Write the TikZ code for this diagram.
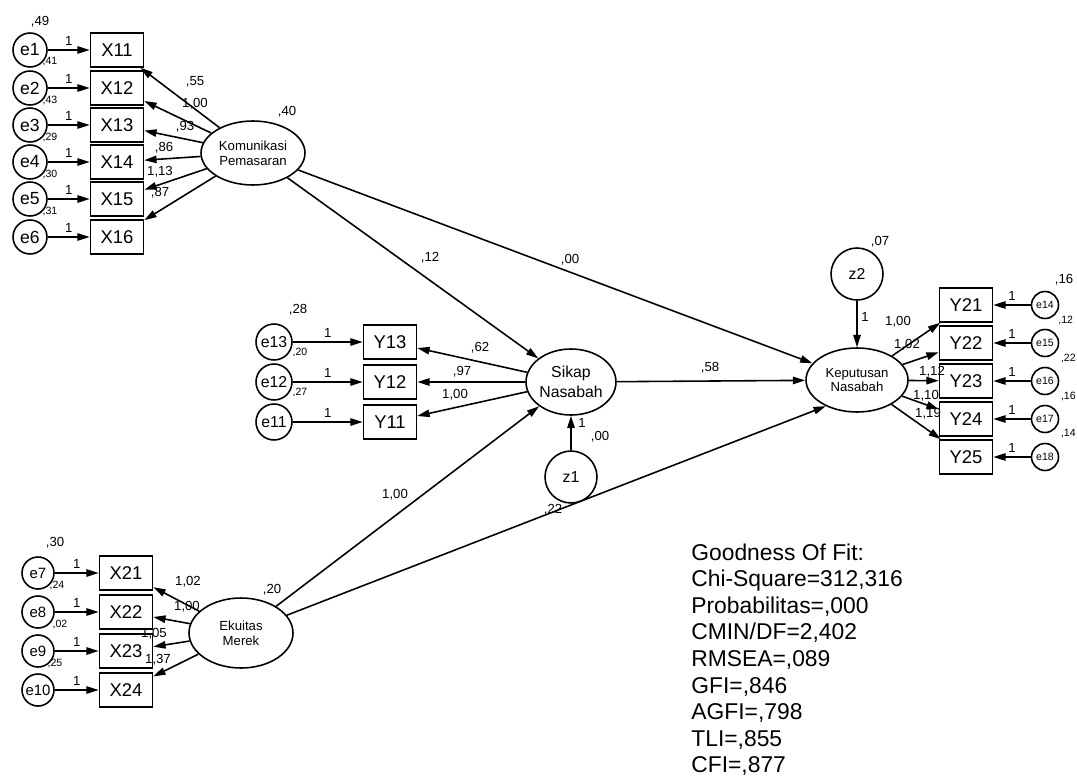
\documentclass[tikz,border=0pt]{standalone}
\usepackage{fontspec}
\setmainfont{Liberation Sans}
\usetikzlibrary{arrows.meta,shapes.geometric}
\tikzset{
  pth/.style={line width=0.9pt,-{Triangle[length=7pt,width=4.2pt]}},
  obs/.style={draw,line width=0.9pt,minimum width=1.06cm,minimum height=0.68cm,inner sep=0pt,font=\fontsize{10.5}{12}\selectfont},
  lat/.style={draw,ellipse,line width=0.9pt,inner sep=0pt,align=center},
  err/.style={draw,circle,line width=0.9pt,inner sep=0pt,minimum size=#1},
  err/.default=0.68cm,
  lbl/.style={inner sep=0pt,font=\fontsize{7.5}{8}\selectfont},
  sml/.style={inner sep=0pt,font=\fontsize{6}{7}\selectfont},
  gof/.style={anchor=base west,inner sep=0pt,font=\fontsize{13}{15}\selectfont}
}

\begin{document}
\begin{tikzpicture}[x=0.02cm,y=-0.02cm]
\useasboundingbox (0,0) rectangle (1077,777);
\clip (0,0) rectangle (1077,777);
\node[lat,minimum width=2.08cm,minimum height=1.28cm,font=\fontsize{7.5}{8.5}\selectfont] (kom) at (253,153) {Komunikasi\\Pemasaran};
\node[lat,minimum width=2.08cm,minimum height=1.40cm,font=\fontsize{7.5}{8.5}\selectfont] (eku) at (241,633) {Ekuitas\\Merek};
\node[lat,minimum width=1.80cm,minimum height=1.32cm,font=\fontsize{9}{11}\selectfont] (sikap) at (571,382) {Sikap\\Nasabah};
\node[lat,minimum width=2.04cm,minimum height=1.28cm,font=\fontsize{7.5}{8.5}\selectfont] (kep) at (857,380) {Keputusan\\Nasabah};
\node[err=1.04cm,font=\fontsize{9}{10}\selectfont] (z1) at (571,477) {z1};
\node[err=1.04cm,font=\fontsize{9}{10}\selectfont] (z2) at (857,274) {z2};
\foreach \n/\y in {1/50,2/88,3/125,4/162,5/199,6/237}{
  \node[err,font=\fontsize{10}{12}\selectfont] (e\n) at (30,\y) {e\n};
  \node[obs] (x1\n) at (117,\y) {X1\n};
  \draw[pth] (e\n) -- node[lbl,above=2pt] (ua\n) {1} (x1\n);
  \draw[pth] (kom) -- (x1\n);
}
\foreach \n/\m/\y in {1/7/573,2/8/612,3/9/651,4/10/690}{
  \node[err=0.64cm,font=\fontsize{8.5}{10}\selectfont] (e\m) at (38,\y) {e\m};
  \node[obs] (x2\n) at (126,\y) {X2\n};
  \draw[pth] (e\m) -- node[lbl,above=2pt] (ub\n) {1} (x2\n);
  \draw[pth] (eku) -- (x2\n);
}
\foreach \n/\m/\y in {3/13/342,2/12/382,1/11/422}{
  \node[err=0.72cm,font=\fontsize{9}{10}\selectfont] (e\m) at (274,\y) {e\m};
  \node[obs] (y1\n) at (390,\y) {Y1\n};
  \draw[pth] (e\m) -- node[lbl,above=2pt] (uc\n) {1} (y1\n);
  \draw[pth] (sikap) -- (y1\n);
}
\foreach \n/\m/\y in {1/14/305,2/15/343,3/16/381,4/17/419,5/18/457}{
  \node[err=0.54cm,font=\fontsize{6}{7}\selectfont] (e\m) at (1045,\y) {e\m};
  \node[obs] (y2\n) at (966,\y) {Y2\n};
  \draw[pth] (e\m) -- node[lbl,above=2pt] (ud\n) {1} (y2\n);
  \draw[pth] (kep) -- (y2\n);
}
\draw[pth] (kom) -- (sikap);
\draw[pth] (kom) -- (kep);
\draw[pth] (sikap) -- (kep);
\draw[pth] (eku) -- (sikap);
\draw[pth] (eku) -- (kep.-140);
\draw[pth] (z1) -- (sikap);
\draw[pth] (z2) -- (kep);
\node[lbl] (pa) at (430,258) {,12};
\node[lbl] (pb) at (570,260) {,00};
\node[lbl] (pc) at (710,368) {,58};
\node[lbl] (pd) at (395,495) {1,00};
\node[lbl] (pe) at (553,510) {,22};
\node[lbl] (ra) at (287,112) {,40};
\node[lbl] (rb) at (272,590) {,20};
\node[lbl] (rc) at (880,242) {,07};
\node[lbl] (rd) at (582,423) {1};
\node[lbl] (re) at (600,437) {,00};
\node[lbl] (rf) at (865,317) {1};
\node[lbl] (la1) at (195,82) {,55};
\node[lbl] (la2) at (195,104) {1,00};
\node[lbl] (la3) at (185,127) {,93};
\node[lbl] (la4) at (164,148) {,86};
\node[lbl] (la5) at (160,172) {1,13};
\node[lbl] (la6) at (160,193) {,87};
\node[lbl] (lb1) at (188,582) {1,02};
\node[lbl] (lb2) at (187,607) {1,00};
\node[lbl] (lb3) at (154,634) {1,05};
\node[lbl] (lb4) at (158,660) {1,37};
\node[lbl] (lc3) at (480,348) {,62};
\node[lbl] (lc2) at (462,372) {,97};
\node[lbl] (lc1) at (455,395) {1,00};
\node[lbl] (ld1) at (898,322) {1,00};
\node[lbl] (ld2) at (907,345) {1,02};
\node[lbl] (ld3) at (932,372) {1,12};
\node[lbl] (ld4) at (926,396) {1,10};
\node[lbl] (ld5) at (928,414) {1,19};
\node[lbl] (va1) at (40,22) {,49};
\node[sml] (va2) at (50,62) {,41};
\node[sml] (va3) at (50,100) {,43};
\node[sml] (va4) at (50,137) {,29};
\node[sml] (va5) at (50,174) {,30};
\node[sml] (va6) at (50,211) {,31};
\node[lbl] (vb1) at (55,543) {,30};
\node[sml] (vb2) at (57,585) {,24};
\node[sml] (vb3) at (60,624) {,02};
\node[sml] (vb4) at (55,663) {,25};
\node[lbl] (vc1) at (298,310) {,28};
\node[sml] (vc2) at (300,352) {,20};
\node[sml] (vc3) at (300,392) {,27};
\node[lbl] (vd1) at (1064,280) {,16};
\node[sml,anchor=west] (vd2) at (1058,320) {,12};
\node[sml,anchor=east] (vd3) at (1076,358) {,22};
\node[sml,anchor=east] (vd4) at (1076,396) {,16};
\node[sml,anchor=east] (vd5) at (1076,434) {,14};
\foreach \k/\s in {0/{Goodness Of Fit:},1/{Chi-Square=312,316},2/{Probabilitas=,000},3/{CMIN/DF=2,402},4/{RMSEA=,089},5/{GFI=,846},6/{AGFI=,798},7/{TLI=,855},8/{CFI=,877}}{
  \node[gof] (g\k) at (691,{560+26.6*\k}) {\s};
}
\end{tikzpicture}
\end{document}
